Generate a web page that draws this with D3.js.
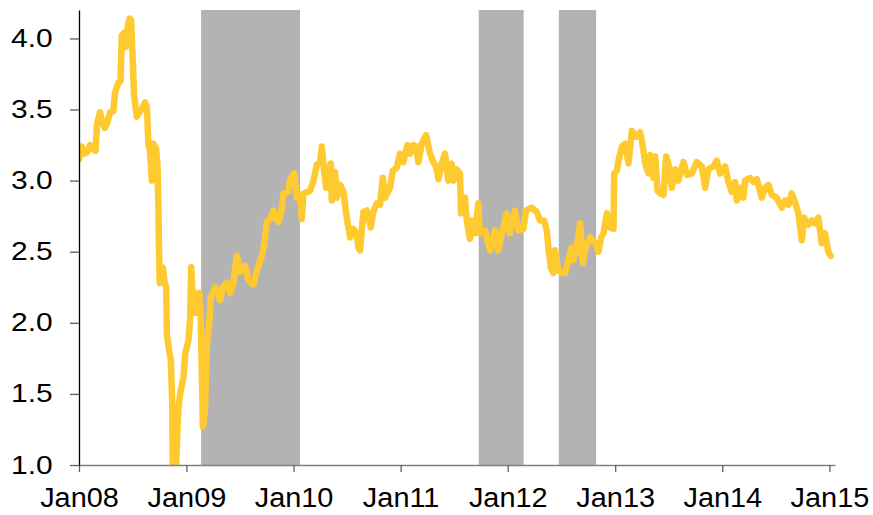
<!DOCTYPE html>
<html><head><meta charset="utf-8">
<script src="https://cdn.jsdelivr.net/npm/d3@7"></script>
<style>body{margin:0;background:#fff}</style>
</head><body><svg id="c" width="873" height="515"></svg>
<script>
// Observation dates as decimal years
const dates = [
2008.000,2008.025,2008.047,2008.075,2008.103,2008.131,2008.154,2008.168,2008.196,2008.215,
2008.238,2008.261,2008.289,2008.320,2008.336,2008.367,2008.387,2008.398,2008.420,2008.438,
2008.457,2008.471,2008.485,2008.497,2008.513,2008.538,2008.560,2008.583,2008.616,2008.632,
2008.646,2008.662,2008.678,2008.693,2008.718,2008.730,2008.740,2008.744,2008.751,2008.765,
2008.781,2008.798,2008.812,2008.818,2008.840,2008.855,2008.868,2008.872,2008.900,2008.914,
2008.926,2008.942,2008.973,2008.989,2009.020,2009.035,2009.045,2009.066,2009.082,2009.104,
2009.119,2009.133,2009.154,2009.175,2009.191,2009.215,2009.227,2009.269,2009.292,2009.315,
2009.341,2009.378,2009.409,2009.439,2009.471,2009.502,2009.549,2009.579,2009.626,2009.658,
2009.704,2009.726,2009.751,2009.782,2009.813,2009.838,2009.859,2009.891,2009.906,2009.952,
2009.968,2010.008,2010.031,2010.062,2010.077,2010.092,2010.127,2010.155,2010.186,2010.217,
2010.248,2010.264,2010.285,2010.304,2010.326,2010.348,2010.357,2010.388,2010.404,2010.435,
2010.466,2010.497,2010.528,2010.559,2010.590,2010.605,2010.621,2010.652,2010.684,2010.721,
2010.745,2010.777,2010.808,2010.833,2010.854,2010.901,2010.926,2010.964,2010.994,2011.025,
2011.063,2011.088,2011.118,2011.144,2011.165,2011.197,2011.237,2011.274,2011.305,2011.330,
2011.352,2011.383,2011.414,2011.445,2011.477,2011.492,2011.523,2011.554,2011.563,2011.601,
2011.617,2011.647,2011.663,2011.694,2011.725,2011.741,2011.787,2011.834,2011.881,2011.911,
2011.943,2011.990,2012.021,2012.067,2012.098,2012.145,2012.170,2012.223,2012.270,2012.300,
2012.338,2012.363,2012.378,2012.400,2012.424,2012.440,2012.471,2012.503,2012.534,2012.564,
2012.596,2012.611,2012.643,2012.674,2012.699,2012.720,2012.767,2012.813,2012.844,2012.869,
2012.891,2012.923,2012.953,2012.984,2012.991,2013.016,2013.031,2013.063,2013.093,2013.124,
2013.156,2013.196,2013.233,2013.258,2013.280,2013.311,2013.327,2013.357,2013.373,2013.395,
2013.420,2013.451,2013.476,2013.497,2013.529,2013.560,2013.590,2013.637,2013.674,2013.715,
2013.762,2013.809,2013.840,2013.870,2013.917,2013.949,2013.979,2014.026,2014.057,2014.089,
2014.119,2014.135,2014.166,2014.197,2014.213,2014.259,2014.290,2014.322,2014.368,2014.399,
2014.430,2014.462,2014.508,2014.555,2014.586,2014.617,2014.648,2014.679,2014.710,2014.742,
2014.763,2014.803,2014.835,2014.866,2014.896,2014.928,2014.959,2014.990,2015.012
];
const values = [
3.15,3.24,3.19,3.20,3.25,3.22,3.21,3.40,3.48,3.42,
3.37,3.40,3.48,3.49,3.62,3.69,3.70,4.02,4.04,3.94,
4.10,4.14,4.13,3.91,3.60,3.45,3.48,3.50,3.55,3.52,
3.26,3.20,3.00,3.26,3.22,3.12,2.80,2.55,2.28,2.30,
2.39,2.28,2.25,1.92,1.80,1.74,1.43,1.00,0.90,1.20,
1.40,1.50,1.62,1.78,1.88,2.04,2.39,2.07,2.21,2.07,
2.21,2.06,1.27,1.41,1.85,2.02,2.18,2.25,2.20,2.16,
2.25,2.28,2.21,2.28,2.47,2.36,2.40,2.30,2.27,2.37,
2.47,2.55,2.71,2.73,2.79,2.74,2.71,2.80,2.91,2.92,
3.01,3.05,2.88,2.90,2.73,2.91,2.92,2.93,3.00,3.11,
3.13,3.24,3.07,2.95,3.07,3.12,2.86,3.06,2.88,2.97,
2.92,2.74,2.60,2.66,2.63,2.53,2.51,2.78,2.79,2.67,
2.78,2.84,2.83,3.02,2.88,2.95,3.07,3.09,3.19,3.13,
3.25,3.19,3.25,3.24,3.13,3.26,3.32,3.19,3.13,3.10,
3.01,3.12,3.19,3.00,3.12,3.00,3.08,3.05,2.77,2.88,
2.72,2.59,2.72,2.63,2.84,2.63,2.65,2.51,2.65,2.51,
2.62,2.77,2.63,2.79,2.65,2.66,2.79,2.81,2.78,2.72,
2.72,2.65,2.53,2.39,2.35,2.51,2.37,2.35,2.35,2.44,
2.53,2.44,2.53,2.70,2.42,2.52,2.60,2.56,2.50,2.60,
2.63,2.77,2.67,2.66,3.05,3.07,3.14,3.24,3.26,3.12,
3.35,3.31,3.34,3.24,3.12,3.05,3.18,3.02,3.17,2.93,
2.91,2.90,3.17,3.12,2.95,3.08,3.00,3.13,3.04,3.05,
3.13,3.10,2.95,3.08,3.10,3.14,3.05,3.10,2.99,2.92,
2.99,2.86,2.95,2.88,3.00,3.02,2.99,3.01,2.88,2.95,
2.97,2.90,2.88,2.81,2.86,2.83,2.91,2.85,2.77,2.58,
2.74,2.69,2.72,2.70,2.74,2.56,2.63,2.50,2.47
];
// Shaded periods
const bandStarts = ["2009-02-20","2011-09-24","2012-06-23"];
const bandEnds   = ["2010-01-23","2012-02-24","2012-10-28"];
// Ticks
const yTicks = [1.0,1.5,2.0,2.5,3.0,3.5,4.0];
const xTickYears = [2008,2009,2010,2011,2012,2013,2014,2015];

function decYear(d){
  const y = Math.floor(d);
  const s = new Date(y,0,1), e = new Date(y+1,0,1);
  return new Date(s.getTime() + (d - y) * (e - s));
}
const parse = d3.timeParse("%Y-%m-%d");
const data = dates.map((d,i)=>({date:decYear(d), v:values[i]}));

const L=79, R=835, T=10, B=465;
const svg = d3.select("#c");
const x = d3.scaleTime().domain([new Date(2008,0,1), new Date(2015,0,20)]).range([L,R]);
const y = d3.scaleLinear().domain([1,4.2]).range([B,T]);

// bands
svg.append("g").selectAll("rect").data(bandStarts.map((s,i)=>({s:parse(s),e:parse(bandEnds[i])})))
  .join("rect")
  .attr("x",d=>x(d.s)).attr("width",d=>x(d.e)-x(d.s))
  .attr("y",T).attr("height",B-T)
  .attr("fill","#b3b3b3");

svg.append("clipPath").attr("id","clip").append("rect")
  .attr("x",L).attr("y",T).attr("width",R-L).attr("height",B-T);

svg.append("path").datum(data)
  .attr("clip-path","url(#clip)")
  .attr("fill","none").attr("stroke","#ffca30").attr("stroke-width",6.5)
  .attr("stroke-linejoin","round").attr("stroke-linecap","round")
  .attr("d", d3.line().x(d=>x(d.date)).y(d=>y(d.v)));

// x axis
const gx = svg.append("g").attr("transform",`translate(0,${B})`)
  .call(d3.axisBottom(x).tickValues(xTickYears.map(yy=>new Date(yy,0,1)))
    .tickFormat(d3.timeFormat("Jan%y")).tickSize(7).tickSizeOuter(0).tickPadding(16));
gx.select(".domain").attr("stroke","#808080").attr("stroke-width",1.5);
gx.selectAll(".tick line").attr("stroke","#606060").attr("stroke-width",1.3);
gx.selectAll(".tick text").attr("font-family","Liberation Sans, Arial, sans-serif")
  .attr("font-size",27).attr("fill","#000").attr("transform","scale(1.07,1)");

// y axis
const gy = svg.append("g").attr("transform",`translate(${L},0)`)
  .call(d3.axisLeft(y).tickValues(yTicks).tickFormat(d3.format(".1f")).tickSize(9).tickSizeOuter(0));
gy.select(".domain").attr("stroke","#000").attr("stroke-width",1.3);
gy.selectAll(".tick line").attr("stroke","#606060").attr("stroke-width",1.3);
gy.selectAll(".tick text").attr("font-family","Liberation Sans, Arial, sans-serif")
  .attr("font-size",25).attr("fill","#000")
  .attr("x",-26.3/1.2).attr("transform","scale(1.2,1)");
</script>
</body></html>
